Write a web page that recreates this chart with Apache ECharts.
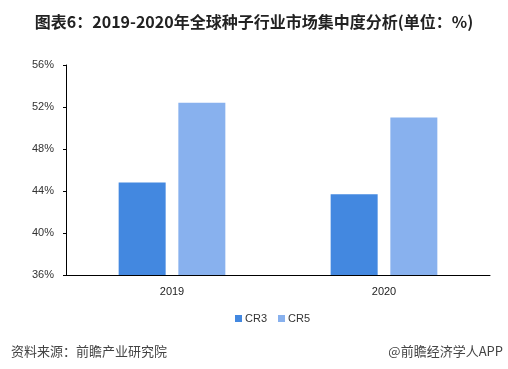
<!DOCTYPE html>
<html><head><meta charset="utf-8">
<script src="https://cdn.jsdelivr.net/npm/echarts@6/dist/echarts.min.js"></script>
<style>html,body{margin:0;padding:0;background:#fff}#c{width:508px;height:369px}</style>
</head><body><div id="c"></div>
<script>
const categories = ['2019', '2020'];
const cr3 = [44.8, 43.7];
const cr5 = [52.4, 51.0];
const seriesNames = ['CR3', 'CR5'];
const yTicks = { min: 36, max: 56, interval: 4 };

const chart = echarts.init(document.getElementById('c'));
chart.setOption({
  animation: false,
  backgroundColor: '#fff',
  title: [{
    text: '图表6：2019-2020年全球种子行业市场集中度分析(单位：%)',
    left: 'center', top: 9,
    textStyle: { fontSize: 16, fontWeight: 'bold', color: '#222', fontFamily: 'Noto Sans CJK SC' }
  }, {
    text: '资料来源：前瞻产业研究院', left: 6, top: 340,
    textStyle: { fontSize: 13, fontWeight: 'normal', color: '#444', fontFamily: 'Noto Sans CJK SC' }
  }, {
    text: '@前瞻经济学人APP', right: 0, top: 340,
    textStyle: { fontSize: 13, fontWeight: 'normal', color: '#444', fontFamily: 'Noto Sans CJK SC' }
  }],
  legend: {
    data: seriesNames, top: 308, left: 230,
    itemWidth: 7, itemHeight: 7, itemGap: 11,
    icon: 'rect',
    textStyle: { fontSize: 11, color: '#333', fontFamily: 'Liberation Sans', padding: [0, 0, 0, -2] }
  },
  grid: { left: 66, right: 18, top: 65, bottom: 94 },
  xAxis: {
    type: 'category', data: categories,
    axisLine: { lineStyle: { color: '#000', width: 1 } },
    axisTick: { show: false },
    axisLabel: { fontSize: 11, color: '#222', margin: 11, fontFamily: 'Liberation Sans' }
  },
  yAxis: {
    type: 'value', min: yTicks.min, max: yTicks.max, interval: yTicks.interval,
    axisLine: { show: true, lineStyle: { color: '#000', width: 1 } },
    axisTick: { show: true, length: 3, lineStyle: { color: '#000' } },
    splitLine: { show: false },
    axisLabel: { fontSize: 11, color: '#333', formatter: '{value}%', margin: 12, fontFamily: 'Liberation Sans' }
  },
  series: [
    { name: seriesNames[0], type: 'bar', data: cr3, barWidth: 47, barGap: '27%', itemStyle: { color: '#4388E0' } },
    { name: seriesNames[1], type: 'bar', data: cr5, barWidth: 47, itemStyle: { color: '#88B1EE' } }
  ]
});
</script></body></html>
